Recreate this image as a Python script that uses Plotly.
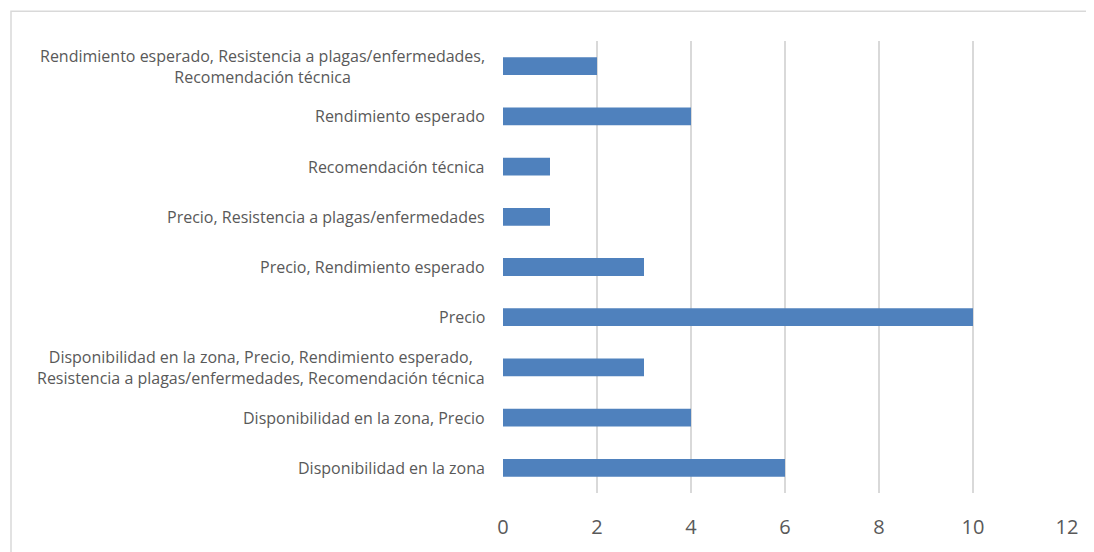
import plotly.graph_objects as go

# categorías de abajo hacia arriba
categorias = [
    "Disponibilidad en la zona",
    "Disponibilidad en la zona, Precio",
    "Disponibilidad en la zona, Precio, Rendimiento esperado,<br>Resistencia a plagas/enfermedades, Recomendación técnica",
    "Precio",
    "Precio, Rendimiento esperado",
    "Precio, Resistencia a plagas/enfermedades",
    "Recomendación técnica",
    "Rendimiento esperado",
    "Rendimiento esperado, Resistencia a plagas/enfermedades,<br>Recomendación técnica",
]
valores = [6, 4, 3, 10, 3, 1, 1, 4, 2]
ticks_x = [0, 2, 4, 6, 8, 10, 12]

GRIS_TEXTO = "#595959"
GRIS_LINEA = "#d9d9d9"
AZUL = "#4f81bd"

fig = go.Figure(go.Bar(
    x=valores, y=categorias, orientation="h",
    marker=dict(color=AZUL, line=dict(width=0)),
))

# etiquetas de categoría (líneas centradas entre sí, como en Excel)
for cat in categorias:
    fig.add_annotation(
        x=0, xref="paper", y=cat, yref="y", text=cat, showarrow=False,
        xanchor="right", xshift=-16, align="center",
        font=dict(family="Open Sans", size=16, color=GRIS_TEXTO),
    )

# borde del área del gráfico
fig.add_shape(type="rect", xref="paper", yref="paper",
              x0=(11 - 503) / 564, x1=1.2, y0=-0.5, y1=1 + 30 / 457,
              line=dict(color=GRIS_LINEA, width=1.5), layer="below")

# la página tiene 8px de margen en el body
fig.update_layout(
    width=1086, height=544,
    margin=dict(l=495, r=27, t=33, b=54),
    paper_bgcolor="white", plot_bgcolor="white",
    bargap=0.646, showlegend=False,
    xaxis=dict(range=[0, 12], tickvals=ticks_x, showgrid=True, gridcolor=GRIS_LINEA,
               gridwidth=1.5, zeroline=False, showline=False, ticks="",
               tickfont=dict(family="Open Sans", size=20, color=GRIS_TEXTO),
               ticklabelstandoff=20, fixedrange=True),
    yaxis=dict(showticklabels=False, showgrid=False, zeroline=False, showline=False,
               ticks="", fixedrange=True),
)

fig.write_html("out.html")
